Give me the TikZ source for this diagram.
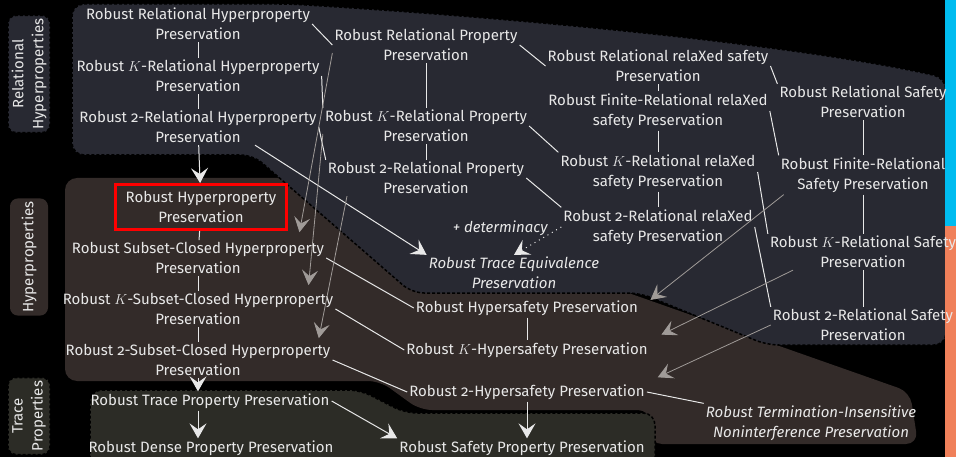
\documentclass[tikz,border=0pt]{standalone}
\usepackage{fontspec}
\setmainfont[Numbers=OldStyle]{Fira Sans}
\usetikzlibrary{arrows.meta}

\definecolor{relbg}{RGB}{40,41,50}
\definecolor{hypbg}{RGB}{51,43,41}
\definecolor{trbg}{RGB}{44,44,38}
\definecolor{txt}{RGB}{232,232,232}
\definecolor{weakgray}{RGB}{160,155,152}
\definecolor{stripblue}{RGB}{0,188,240}
\definecolor{striporange}{RGB}{240,128,90}

\tikzset{
  prop/.style={text=txt, align=center, inner sep=2pt, font=\fontsize{15}{20}\selectfont},
  itprop/.style={prop, font=\fontsize{15}{20}\selectfont\itshape},
  tag/.style={prop, rotate=90, rounded corners=8pt, inner sep=3pt},
  link/.style={draw=txt, line width=1pt},
  impl/.style={link, -{Stealth[length=15pt, width=17pt, inset=6pt]}},
  weak/.style={draw=weakgray, line width=0.8pt, -{Stealth[length=15pt, width=16pt, inset=6pt]}},
  rim/.style={draw=black, densely dashed, line width=1.5pt},
}

\begin{document}
\begin{tikzpicture}[x=1pt, y=-1pt]
    \fill[black] (0,0) rectangle (956,457);
    \useasboundingbox (0,0) rectangle (956,457);

    % Regiones
    \fill[hypbg, rounded corners=12pt] (65,178) -- (620,178) -- (620,290) -- (910,392)
        -- (918,444) -- (650,444) -- (650,410) -- (420,410) -- (380,381) -- (65,381) -- cycle;
    \filldraw[trbg, rim, rounded corners=12pt] (90,390) -- (360,390) -- (405,413)
        -- (655,413) -- (655,475) -- (90,475) -- cycle;
    \filldraw[relbg, rim, rounded corners=12pt] (72,4) -- (290,4)
        .. controls (520,18) and (800,45) .. (946,78) -- (946,345) -- (767,345)
        -- (640,293) -- (412,293) -- (253,155) -- (72,155) -- cycle;

    % Franja
    \fill[stripblue] (945,0) rectangle (956,226);
    \fill[striporange] (945,226) rectangle (956,457);

    % Etiquetas
    \node[tag, fill=relbg, rim, minimum width=115pt, minimum height=42pt] (reltag) at (29,74) {Relational\\Hyperproperties};
    \node[tag, fill=hypbg, minimum width=115pt, minimum height=38pt] (hyptag) at (29,257) {Hyperproperties};
    \node[tag, fill=trbg, rim, minimum width=77pt, minimum height=42pt] (trtag) at (29,416) {Trace\\Properties};

    % Hiperpropiedades
    \node[prop] (rrhp) at (198,24) {Robust Relational Hyperproperty\\Preservation};
    \node[prop] (rkrhp) at (198,76) {Robust $K$-Relational Hyperproperty\\Preservation};
    \node[prop] (r2rhp) at (198,127) {Robust 2-Relational Hyperproperty\\Preservation};
    \node[prop, draw=red, line width=2.5pt, inner xsep=10pt, inner ysep=7pt] (rhp) at (201,207) {Robust Hyperproperty\\Preservation};
    \node[prop] (rschp) at (198,258) {Robust Subset-Closed Hyperproperty\\Preservation};
    \node[prop] (rkschp) at (198,309) {Robust $K$-Subset-Closed Hyperproperty\\Preservation};
    \node[prop] (r2schp) at (198,360) {Robust 2-Subset-Closed Hyperproperty\\Preservation};
    \node[prop] (rtp) at (210,401) {Robust Trace Property Preservation};
    \node[prop] (rdp) at (211,448) {Robust Dense Property Preservation};

    % Propiedades relacionales
    \node[prop] (rrp) at (426,45) {Robust Relational Property\\Preservation};
    \node[prop] (rkrp) at (426,126) {Robust $K$-Relational Property\\Preservation};
    \node[prop] (r2rp) at (426,178) {Robust 2-Relational Property\\Preservation};
    \node[itprop] (rtep) at (514,273) {Robust Trace Equivalence\\Preservation};

    % relaXed safety
    \node[prop] (rrxp) at (658,66) {Robust Relational relaXed safety\\Preservation};
    \node[prop] (rfrxp) at (658,111) {Robust Finite-Relational relaXed\\safety Preservation};
    \node[prop] (rkrxp) at (658,172) {Robust $K$-Relational relaXed\\safety Preservation};
    \node[prop] (r2rxp) at (658,227) {Robust 2-Relational relaXed\\safety Preservation};

    % Safety relacional
    \node[prop] (rrsp) at (863,102) {Robust Relational Safety\\Preservation};
    \node[prop] (rfrsp) at (863,175) {Robust Finite-Relational\\Safety Preservation};
    \node[prop] (rkrsp) at (863,252) {Robust $K$-Relational Safety\\Preservation};
    \node[prop] (r2rsp) at (863,325) {Robust 2-Relational Safety\\Preservation};

    % Hypersafety
    \node[prop] (rhsp) at (527,308) {Robust Hypersafety Preservation};
    \node[prop] (rkhsp) at (527,350) {Robust $K$-Hypersafety Preservation};
    \node[prop] (r2hsp) at (527,392) {Robust 2-Hypersafety Preservation};
    \node[prop] (rsp) at (522,448) {Robust Safety Property Preservation};
    \node[itprop] (rtini) at (811,423) {Robust Termination-Insensitive\\Noninterference Preservation};

    % Columnas
    \draw[link] (rrhp) -- (rkrhp);
    \draw[link] (rkrhp) -- (r2rhp);
    \draw[impl] (r2rhp) -- (rhp);
    \draw[link] (rhp) -- (rschp);
    \draw[link] (rschp) -- (rkschp);
    \draw[link] (rkschp) -- (r2schp);
    \draw[impl] (r2schp) -- (r2schp |- rtp.north);
    \draw[impl] (rtp.south -| r2schp) -- (r2schp |- rdp.north);
    \draw[impl] (rtp.east) -- (rsp.north west);
    \draw[link] (rrp) -- (rkrp);
    \draw[link] (rkrp) -- (r2rp);
    \draw[link] (rrxp) -- (rfrxp);
    \draw[link] (rfrxp) -- (rkrxp);
    \draw[link] (rkrxp) -- (r2rxp);
    \draw[link] (rrsp) -- (rfrsp);
    \draw[link] (rfrsp) -- (rkrsp);
    \draw[link] (rkrsp) -- (r2rsp);
    \draw[link] (rhsp) -- (rkhsp);
    \draw[impl] (r2hsp) -- (r2hsp |- rsp.north);

    % Diagonales
    \draw[link] (rrhp.east) -- (rrp.west);
    \draw[link] (rkrhp.east) -- (rkrp.north west);
    \draw[link] (r2rhp.east) -- (r2rp.north west);
    \draw[impl] ([xshift=57pt]r2rhp.south) -- (rtep.north west);
    \draw[link] (rrp.east) -- (rrxp.west);
    \draw[link] (rkrp.east) -- (rkrxp.north west);
    \draw[link] (r2rp.east) -- (r2rxp.north west);
    \draw[link] (rrxp.east) -- (rrsp.north west);
    \draw[link] (rfrxp.east) -- (rfrsp.north west);
    \draw[link] (rkrxp.east) -- (rkrsp.north west);
    \draw[link] (r2rxp.east) -- (r2rsp.north west);
    \draw[link] (rschp.east) -- (rhsp.west);
    \draw[link] (rkschp.east) -- (rkhsp.west);
    \draw[link] (r2schp.east) -- (r2hsp.west);
    \draw[link] (r2hsp.east) -- (rtini.north west);
    \draw[impl, dash pattern=on 1pt off 4pt] (r2rxp.west) --
        node[pos=0.15, left, xshift=-4pt, yshift=3pt, itprop] (det) {+ determinacy} (rtep.north);

    % Flechas grises
    \draw[weak, shorten >=8pt] ([yshift=-8pt]rrp.west) -- ([xshift=100pt]rschp.north);
    \draw[weak, shorten >=6pt] ([yshift=-8pt]rkrp.west) -- ([xshift=110pt]rkschp.north);
    \draw[weak, shorten >=4pt] ([xshift=-79pt]r2rp.south) -- ([xshift=120pt]r2schp.north);
    \draw[weak, shorten >=13pt] ([xshift=5pt]rfrsp.south west) -- (rhsp.east);
    \draw[weak, shorten >=13pt] ([xshift=-70pt]rkrsp.south) -- (rkhsp.north east);
    \draw[weak, shorten >=12pt] (r2rsp.west) -- (r2hsp.north east);
\end{tikzpicture}
\end{document}
